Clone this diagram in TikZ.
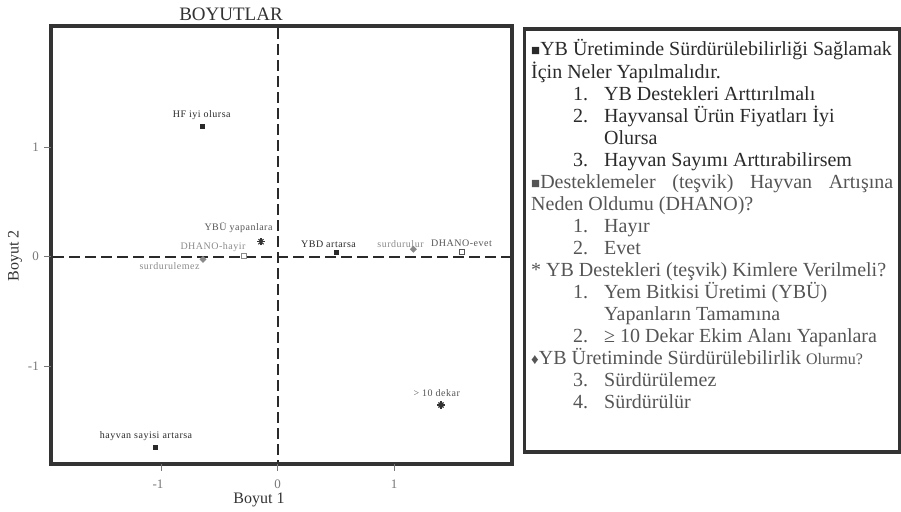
\documentclass[tikz,border=0pt]{standalone}
\usepackage{fontspec}
\setmainfont{Liberation Serif}
\newfontfamily\lblfont[LetterSpace=5]{Liberation Serif}
\usepackage{tikz}
\usetikzlibrary{positioning}
\usepackage{xcolor}
\definecolor{framec}{HTML}{333333}
\definecolor{darkc}{HTML}{2A2A2A}
\definecolor{midc}{HTML}{555555}
\definecolor{lightc}{HTML}{8A8A8A}
\definecolor{tickc}{HTML}{777777}

\newcommand{\fillsq}[1]{\fill[darkc] ([shift={(-2.5,-2.5)}]#1) rectangle ([shift={(2.5,2.5)}]#1);}
\newcommand{\opensq}[2]{\draw[#2, line width=1pt, fill=white] ([shift={(-2.3,-2.3)}]#1) rectangle ([shift={(2.3,2.3)}]#1);}
\newcommand{\dmmark}[1]{\fill[lightc] ([shift={(0,-3.5)}]#1) -- ([shift={(3.5,0)}]#1) -- ([shift={(0,3.5)}]#1) -- ([shift={(-3.5,0)}]#1) -- cycle;}
\newcommand{\astmark}[1]{\foreach \a in {0,45,90,135} \draw[framec, line width=1.1pt] ([shift={(\a:3.6)}]#1) -- ([shift={(\a+180:3.6)}]#1);}

\begin{document}
\begin{tikzpicture}[x=1pt,y=-1pt,
	lbl/.style={font=\lblfont\fontsize{10}{11}\selectfont, inner sep=0pt},
	ticklbl/.style={font=\fontsize{13}{14}\selectfont, text=tickc, inner sep=0pt},
	boxtxt/.style={font=\fontsize{20}{22}\selectfont, anchor=base west, inner sep=0pt},
	axlbl/.style={font=\fontsize{16}{18}\selectfont, text=framec, inner sep=0pt},
	axdash/.style={darkc, line width=2pt, dash pattern=on 11pt off 5pt}]
	\useasboundingbox (0,0) rectangle (901,511);

	% plot frame
	\draw[framec, line width=3.2pt] (51,26) rectangle (512,464);
	\draw[axdash] (53,256.5) -- (510,256.5);
	\draw[axdash] (277.5,28) -- (277.5,462);

	% ticks
	\foreach \y/\t in {147.7/1, 256.5/0, 366/-1} {
		\draw[tickc, line width=1pt] (44,\y) -- (51,\y);
		\node[ticklbl, anchor=east] at (39,\y) {\t};
	}
	\foreach \x/\t in {161.7/-1, 277.5/0, 394.5/1} {
		\draw[tickc, line width=1pt] (\x,464) -- (\x,471);
	}
	\node[ticklbl] (xm1) at (158,484) {-1};
	\node[ticklbl] (x0) at (277.5,484) {0};
	\node[ticklbl] (x1) at (394,484) {1};

	\node[axlbl] (ax1) at (259,500) {Boyut 1};
	\node[axlbl, rotate=90] (ax2) at (15,256) {Boyut 2};
	\node[font=\fontsize{19}{20}\selectfont, text=framec, inner sep=0pt] (title) at (231,14) {BOYUTLAR};

	% points
	\coordinate (hf) at (202.7,126.7);
	\coordinate (ybu) at (261,241.7);
	\coordinate (dh) at (244,256);
	\coordinate (sz) at (203,259.3);
	\coordinate (ybd) at (336.7,252.7);
	\coordinate (sr) at (413.3,249.3);
	\coordinate (de) at (461.7,251.7);
	\coordinate (dk) at (441,405);
	\coordinate (hv) at (155,447.7);

	\fillsq{hf}
	\fillsq{ybd}
	\fillsq{hv}
	\opensq{dh}{lightc}
	\opensq{de}{midc}
	\dmmark{sz}
	\dmmark{sr}
	\astmark{ybu}
	\astmark{dk}

	\node[lbl, text=darkc] (hf-l) at (201.7,115) {HF iyi olursa};
	\node[lbl, text=midc] (ybu-l) at (238.5,228) {YBÜ yapanlara};
	\node[lbl, text=lightc] (dh-l) at (213,247) {DHANO-hayir};
	\node[lbl, text=lightc] (sz-l) at (169.5,266.5) {surdurulemez};
	\node[lbl, text=darkc] (ybd-l) at (328.5,244) {YBD artarsa};
	\node[lbl, text=lightc] (sr-l) at (400.5,244) {surdurulur};
	\node[lbl, text=midc] (de-l) at (461.5,243) {DHANO-evet};
	\node[lbl, text=midc] (dk-l) at (436.7,393) {> 10 dekar};
	\node[lbl, text=darkc] (hv-l) at (146,436) {hayvan sayisi artarsa};

	% legend box
	\draw[framec, line width=3.2pt] (524.5,29) rectangle (899.4,452);
	\node[boxtxt, text=darkc] (t1) at (531,56) {{\fontsize{15}{16}\selectfont ■}YB Üretiminde Sürdürülebilirliği Sağlamak};
	\node[boxtxt, text=darkc] (t2) at (531,78) {İçin Neler Yapılmalıdır.};
	\node[boxtxt, text=darkc] (n3) at (573,100) {1.};
	\node[boxtxt, text=darkc] (t3) at (604,100) {YB Destekleri Arttırılmalı};
	\node[boxtxt, text=darkc] (n4) at (573,122) {2.};
	\node[boxtxt, text=darkc] (t4) at (604,122) {Hayvansal Ürün Fiyatları İyi};
	\node[boxtxt, text=darkc] (t5) at (604,144) {Olursa};
	\node[boxtxt, text=darkc] (n6) at (573,166) {3.};
	\node[boxtxt, text=darkc] (t6) at (604,166) {Hayvan Sayımı Arttırabilirsem};
	\node[boxtxt, text=midc] (t7) at (531,188) {\hbox to 362pt{{\fontsize{15}{16}\selectfont ■}Desteklemeler\hfill(teşvik)\hfill Hayvan\hfill Artışına}};
	\node[boxtxt, text=midc] (t8) at (531,210) {Neden Oldumu (DHANO)?};
	\node[boxtxt, text=midc] (n9) at (573,232) {1.};
	\node[boxtxt, text=midc] (t9) at (604,232) {Hayır};
	\node[boxtxt, text=midc] (n10) at (573,254) {2.};
	\node[boxtxt, text=midc] (t10) at (604,254) {Evet};
	\node[boxtxt, text=midc] (t11) at (531,276) {* YB Destekleri (teşvik) Kimlere Verilmeli?};
	\node[boxtxt, text=midc] (n12) at (573,298) {1.};
	\node[boxtxt, text=midc] (t12) at (604,298) {Yem Bitkisi Üretimi (YBÜ)};
	\node[boxtxt, text=midc] (t13) at (604,320) {Yapanların Tamamına};
	\node[boxtxt, text=midc] (n14) at (573,342) {2.};
	\node[boxtxt, text=midc] (t14) at (604,342) {≥ 10 Dekar Ekim Alanı Yapanlara};
	\node[boxtxt, text=midc] (t15) at (531,364) {{\fontsize{15}{16}\selectfont ♦}YB Üretiminde Sürdürülebilirlik {\fontsize{16}{17}\selectfont Olurmu?}};
	\node[boxtxt, text=midc] (n16) at (573,386) {3.};
	\node[boxtxt, text=midc] (t16) at (604,386) {Sürdürülemez};
	\node[boxtxt, text=midc] (n17) at (573,408) {4.};
	\node[boxtxt, text=midc] (t17) at (604,408) {Sürdürülür};
\end{tikzpicture}
\end{document}
